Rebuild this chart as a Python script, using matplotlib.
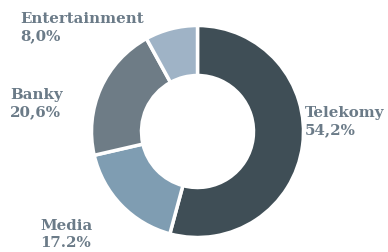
import matplotlib.pyplot as plt

# Data
labels = ['Telekomy', 'Media', 'Banky', 'Entertainment']
values = [54.2, 17.2, 20.6, 8.0]
value_text = ['54,2%', '17.2%', '20,6%', '8,0%']
colors = ['#3f4e56', '#7f9db2', '#6e7c86', '#9fb3c6']

# label anchors (pixels, top-left origin)
label_pos = [(305, 106), (40, 219), (10, 88), (20, 12)]

W, H = 388, 253
fig = plt.figure(figsize=(W / 100, H / 100), dpi=100)
ax = fig.add_axes([0, 0, 1, 1])

ax.pie(values, colors=colors, startangle=90, counterclock=False,
       center=(197.5, H - 132.5), radius=106, frame=True,
       wedgeprops=dict(width=50, edgecolor='white', linewidth=2.5))
ax.set_xlim(0, W)
ax.set_ylim(0, H)
ax.set_aspect('equal')
ax.axis('off')

for lab, vt, (x, y) in zip(labels, value_text, label_pos):
    ax.text(x, H - y, lab + '\n' + vt, ha='left', va='top',
            family='DejaVu Serif', fontweight='bold', fontsize=10.8,
            color='#6b7b88', linespacing=1.25)

fig.savefig('out.png', dpi=100)
